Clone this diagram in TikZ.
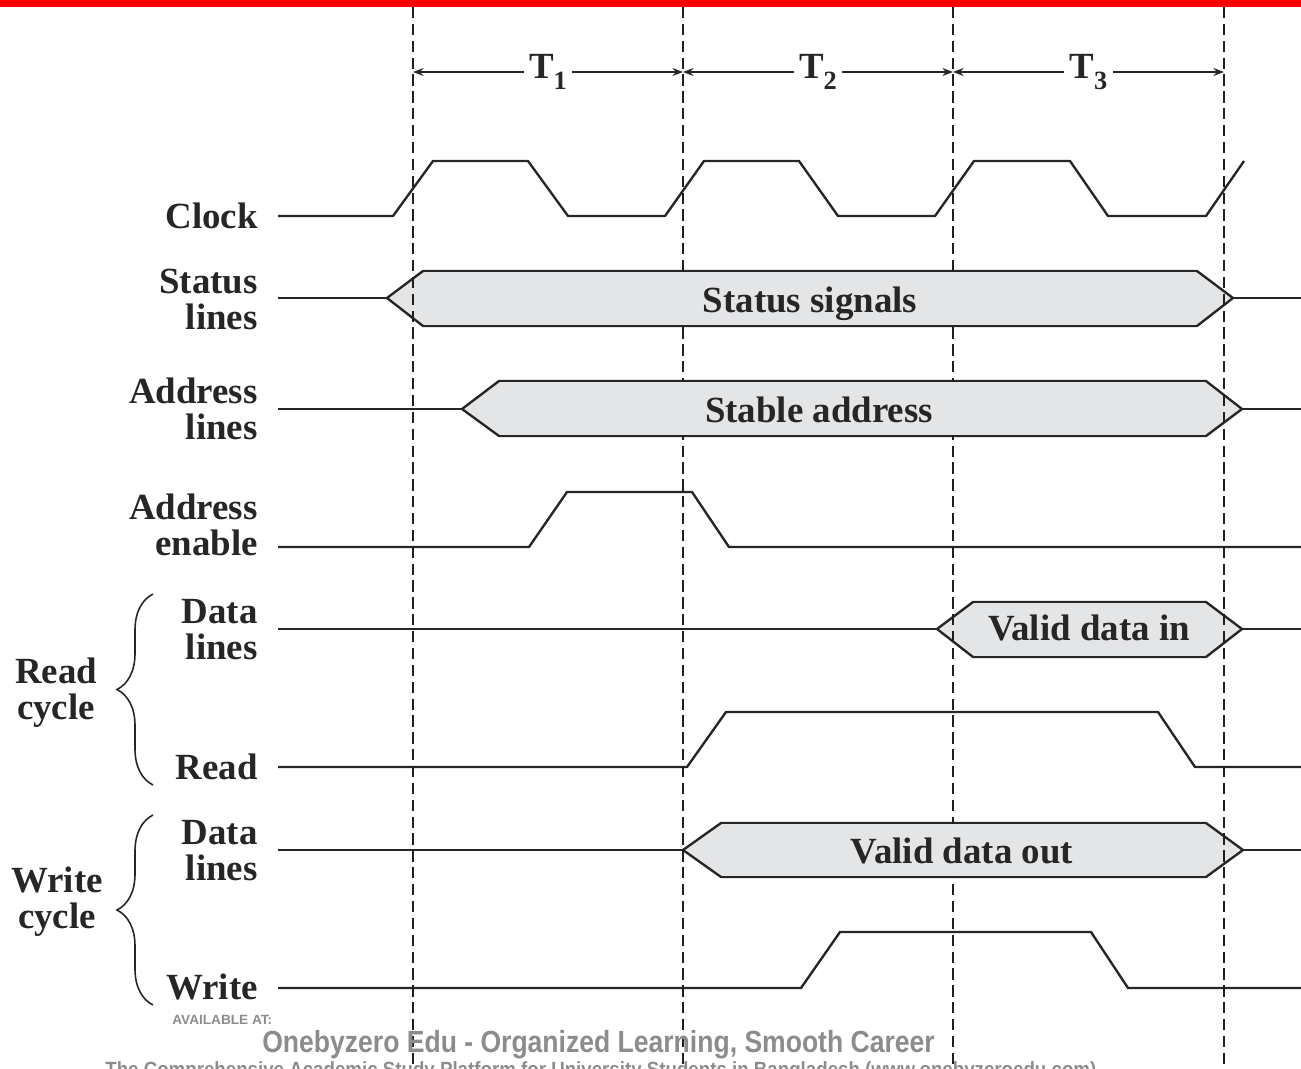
\documentclass[tikz,border=0pt]{standalone}
\usepackage{fontspec}
\setmainfont{Liberation Serif}
\newfontfamily\wmfont{Liberation Sans}
\usetikzlibrary{arrows.meta,decorations.pathreplacing}
\definecolor{busfill}{RGB}{228,229,231}
\definecolor{ink}{RGB}{38,38,38}
\definecolor{wmgray}{RGB}{140,140,140}
\definecolor{topred}{RGB}{255,0,0}
\begin{document}
\begin{tikzpicture}[x=0.02cm,y=-0.02cm,
  sig/.style={draw=ink,line width=1.35pt,line join=round},
  bus/.style={sig,fill=busfill},
  gridline/.style={draw=black!88,line width=1.2pt,dash pattern=on 6.4pt off 3.2pt},
  lbl/.style={font=\fontsize{21}{21}\selectfont\bfseries,text=ink,inner sep=0pt,anchor=base east},
  grp/.style={font=\fontsize{21}{21}\selectfont\bfseries,text=ink,inner sep=0pt,anchor=base},
  bustxt/.style={font=\fontsize{21}{21}\selectfont\bfseries,text=ink,inner sep=0pt,anchor=base},
  tlabel/.style={font=\fontsize{21}{21}\selectfont\bfseries,text=ink,fill=white,inner xsep=3pt,inner ysep=0pt},
  tarrow/.style={draw=ink,line width=1pt,{Stealth[length=6pt,width=4.5pt]}-{Stealth[length=6pt,width=4.5pt]}},
  brc/.style={draw=ink,line width=0.9pt,decorate,decoration={brace,amplitude=0.72cm}},
  wm/.style={text=wmgray,inner sep=0pt,anchor=base west}]
\path[use as bounding box] (0,0) rectangle (1301,1068);
\clip (0,0) rectangle (1301,1068);

% top bar
\fill[topred] (0,0) rectangle (1301,7);

% row labels
\node[lbl] (lClock) at (258,228) {Clock};
\node[lbl] (lStatusA) at (258,293) {Status};
\node[lbl] (lStatusB) at (258,329) {lines};
\node[lbl] (lAddrA) at (258,403) {Address};
\node[lbl] (lAddrB) at (258,439) {lines};
\node[lbl] (lEnA) at (258,519) {Address};
\node[lbl] (lEnB) at (258,555) {enable};
\node[lbl] (lRDataA) at (258,623) {Data};
\node[lbl] (lRDataB) at (258,659) {lines};
\node[lbl] (lRead) at (258,779) {Read};
\node[lbl] (lWDataA) at (258,844) {Data};
\node[lbl] (lWDataB) at (258,880) {lines};
\node[lbl] (lWrite) at (258,999) {Write};

% cycle groups
\node[grp] (gReadA) at (56,683) {Read};
\node[grp] (gReadB) at (56,719) {cycle};
\node[grp] (gWriteA) at (57,892) {Write};
\node[grp] (gWriteB) at (57,928) {cycle};
\draw[brc] (153,785) -- (153,594);
\draw[brc] (153,1005) -- (153,815);

% clock
\draw[sig] (278,216) -- (393,216) -- (433,161) -- (528,161) -- (568,216) -- (665,216)
  -- (704,161) -- (799,161) -- (838,216) -- (935,216) -- (974,161) -- (1070,161)
  -- (1108,216) -- (1206,216) -- (1244,161);

% status lines
\draw[sig] (278,298) -- (387,298);
\draw[sig] (1233,298) -- (1301,298);
\draw[bus] (387,298) -- (423,271) -- (1197,271) -- (1233,298) -- (1197,326) -- (423,326) -- cycle;

% address lines
\draw[sig] (278,409) -- (462,409);
\draw[sig] (1242,409) -- (1301,409);
\draw[bus] (462,409) -- (499,381) -- (1206,381) -- (1242,409) -- (1206,436) -- (499,436) -- cycle;

% address enable
\draw[sig] (278,547) -- (529,547) -- (567,492) -- (692,492) -- (729,547) -- (1301,547);

% read cycle: data lines
\draw[sig] (278,629) -- (937,629);
\draw[sig] (1242,629) -- (1301,629);
\draw[bus] (937,629) -- (973,602) -- (1206,602) -- (1242,629) -- (1206,657) -- (973,657) -- cycle;

% read
\draw[sig] (278,767) -- (687,767) -- (726,712) -- (1158,712) -- (1195,767) -- (1301,767);

% write cycle: data lines
\draw[sig] (278,850) -- (683,850);
\draw[sig] (1243,850) -- (1301,850);
\draw[bus] (683,850) -- (721,823) -- (1206,823) -- (1243,850) -- (1206,877) -- (721,877) -- cycle;

% write
\draw[sig] (278,988) -- (801,988) -- (840,932) -- (1091,932) -- (1128,988) -- (1301,988);

% dashed period boundaries
\coordinate (d1t) at (413,7);  \coordinate (d1b) at (413,1068);
\coordinate (d2t) at (683,7);  \coordinate (d2b) at (683,1068);
\coordinate (d3t) at (953,7);  \coordinate (d3b) at (953,1068);
\coordinate (d4t) at (1224,7); \coordinate (d4b) at (1224,1068);
\draw[gridline] (d1t) -- (d1b);
\draw[gridline] (d2t) -- (d2b);
\draw[gridline] (d3t) -- (d3b);
\draw[gridline] (d4t) -- (d4b);

% bus bodies stay opaque over the boundaries
\fill[busfill] (424,272.3) rectangle (1196,324.7);
\fill[busfill] (500,382.3) rectangle (1205,434.7);
\fill[busfill] (974,603.3) rectangle (1205,655.7);
\fill[busfill] (722,824.3) rectangle (1205,875.7);

\node[bustxt] (tStatus) at (810,312) {Status signals};
\node[bustxt] (tAddr) at (819,422) {Stable address};
\node[bustxt] (tIn) at (1089,640) {Valid data in};
\node[bustxt] (tOut) at (962,863) {Valid data out};

% period markers
\coordinate (p1) at (413,72);
\coordinate (p2) at (683,72);
\coordinate (p3) at (953,72);
\coordinate (p4) at (1224,72);
\draw[tarrow] (p1) -- node[tlabel] (T1) {T\raisebox{-0.28em}{\fontsize{15}{15}\selectfont 1}} (p2);
\draw[tarrow] (p2) -- node[tlabel] (T2) {T\raisebox{-0.28em}{\fontsize{15}{15}\selectfont 2}} (p3);
\draw[tarrow] (p3) -- node[tlabel] (T3) {T\raisebox{-0.28em}{\fontsize{15}{15}\selectfont 3}} (p4);

% footer
\node[wm,font=\wmfont\bfseries\fontsize{7.6}{8}\selectfont] (wm1) at (172,1024) {\scalebox{1.02}[1]{AVAILABLE AT:}};
\node[wm,font=\wmfont\bfseries\fontsize{17.4}{18}\selectfont] (wm2) at (262,1052) {\scalebox{0.868}[1]{Onebyzero Edu - Organized Learning, Smooth Career}};
\node[wm,font=\wmfont\bfseries\fontsize{11.7}{12}\selectfont] (wm3) at (105,1076) {\scalebox{0.91}[1]{The Comprehensive Academic Study Platform for University Students in Bangladesh (www.onebyzeroedu.com)}};
\end{tikzpicture}
\end{document}
